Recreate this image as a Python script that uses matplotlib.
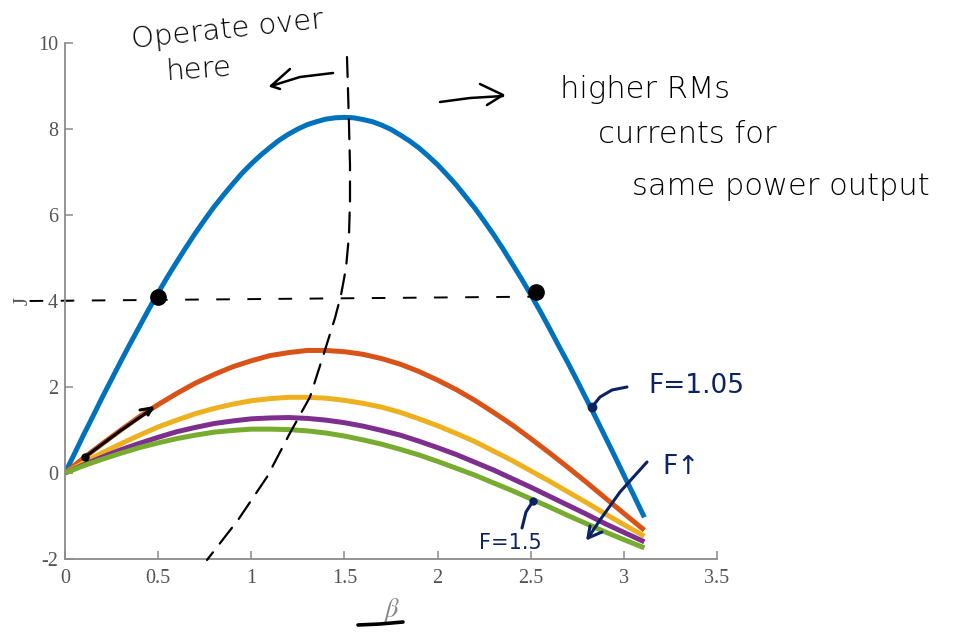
import matplotlib
matplotlib.use("Agg")
import matplotlib.pyplot as plt
from matplotlib.lines import Line2D

plt.rcParams["font.family"] = "Liberation Serif"
plt.rcParams["mathtext.fontset"] = "stix"

# beta samples (rad) and J for each F value
beta = [0.0, 0.1, 0.2, 0.3, 0.4, 0.5, 0.6, 0.7, 0.8, 0.9, 1.0, 1.1, 1.2, 1.3, 1.4, 1.5,
        1.6, 1.7, 1.8, 1.9, 2.0, 2.1, 2.2, 2.3, 2.4, 2.5, 2.6, 2.7, 2.8, 2.9, 3.0, 3.11]

# F = 1.05 bends sharply, so it is sampled twice as densely
beta_fine = [0.0, 0.05, 0.1, 0.15, 0.2, 0.25, 0.3, 0.35, 0.4, 0.45, 0.5, 0.55, 0.6, 0.65, 0.7, 0.75,
             0.8, 0.85, 0.9, 0.95, 1.0, 1.05, 1.1, 1.15, 1.2, 1.25, 1.3, 1.35, 1.4, 1.45, 1.5, 1.55,
             1.6, 1.65, 1.7, 1.75, 1.8, 1.85, 1.9, 1.95, 2.0, 2.05, 2.1, 2.15, 2.2, 2.25, 2.3, 2.35,
             2.4, 2.45, 2.5, 2.55, 2.6, 2.65, 2.7, 2.75, 2.8, 2.85, 2.9, 2.95, 3.0, 3.05, 3.11]
J_F105 = [0.0, 0.44, 0.89, 1.32, 1.76, 2.18, 2.60, 3.01, 3.41, 3.81, 4.19, 4.56, 4.91, 5.25, 5.58, 5.89,
          6.19, 6.46, 6.72, 6.97, 7.19, 7.39, 7.57, 7.74, 7.88, 8.00, 8.10, 8.17, 8.23, 8.26, 8.27, 8.26,
          8.22, 8.17, 8.09, 7.99, 7.86, 7.72, 7.56, 7.37, 7.17, 6.94, 6.70, 6.43, 6.16, 5.86, 5.55, 5.22,
          4.87, 4.52, 4.15, 3.77, 3.37, 2.96, 2.56, 2.14, 1.71, 1.28, 0.84, 0.40, -0.05, -0.49, -1.03]

J_F2 = [0.0, 0.35, 0.68, 1.00, 1.31, 1.59, 1.85, 2.09, 2.29, 2.47, 2.61, 2.73, 2.80, 2.85, 2.85, 2.82,
        2.76, 2.66, 2.53, 2.36, 2.16, 1.94, 1.69, 1.41, 1.12, 0.80, 0.47, 0.13, -0.22, -0.58, -0.94, -1.33]
J_F3 = [0.0, 0.24, 0.47, 0.68, 0.88, 1.07, 1.23, 1.38, 1.50, 1.60, 1.68, 1.73, 1.76, 1.76, 1.74, 1.69,
        1.62, 1.53, 1.41, 1.26, 1.10, 0.92, 0.73, 0.51, 0.29, 0.05, -0.19, -0.44, -0.69, -0.95, -1.20, -1.47]
J_F4 = [0.0, 0.19, 0.37, 0.54, 0.69, 0.83, 0.96, 1.06, 1.15, 1.21, 1.26, 1.28, 1.29, 1.27, 1.23, 1.17,
        1.09, 0.99, 0.88, 0.74, 0.59, 0.43, 0.25, 0.07, -0.13, -0.33, -0.54, -0.75, -0.96, -1.18, -1.38, -1.60]
J_F15 = [0.0, 0.17, 0.32, 0.46, 0.59, 0.70, 0.80, 0.88, 0.95, 0.99, 1.02, 1.02, 1.01, 0.98, 0.93, 0.86,
         0.77, 0.67, 0.55, 0.42, 0.27, 0.11, -0.05, -0.23, -0.41, -0.60, -0.79, -0.99, -1.18, -1.37, -1.55, -1.74]

curves = [(beta_fine, J_F105), (beta, J_F2), (beta, J_F3), (beta, J_F4), (beta, J_F15)]
colors = ["#0072BD", "#D95319", "#EDB120", "#7E2F8E", "#77AC30"]

# operating points picked on the F=1.05 curve
op_beta = [0.5, 2.53]
op_J = [4.1, 4.2]

xticks = [0, 0.5, 1, 1.5, 2, 2.5, 3, 3.5]
xticklabels = ["0", "0.5", "1", "1.5", "2", "2.5", "3", "3.5"]
yticks = [-2, 0, 2, 4, 6, 8, 10]
yticklabels = ["-2", "0", "2", "4", "6", "8", "10"]

W, H = 963, 632
fig = plt.figure(figsize=(W / 100, H / 100), dpi=100)
ax = fig.add_axes([65 / W, 1 - 559 / H, (717 - 65) / W, (559 - 43) / H])

for (x, J), c in zip(curves, colors):
    ax.plot(x, J, color=c, linewidth=3.6, solid_capstyle="butt", solid_joinstyle="round")

ax.set_xlim(0, 3.5)
ax.set_ylim(-2, 10)
ax.spines[["top", "right"]].set_visible(False)
for s in ["left", "bottom"]:
    ax.spines[s].set_color("#8a8a8a")
    ax.spines[s].set_linewidth(1.3)

ax.set_xticks(xticks, labels=xticklabels)
ax.set_yticks(yticks, labels=yticklabels)
ax.tick_params(direction="in", length=6, width=1.1, color="#8a8a8a",
               labelcolor="#555555", labelsize=14.5)
ax.tick_params(axis="x", pad=7)
ax.tick_params(axis="y", pad=5)

ax.set_xlabel(r"$\beta$", fontsize=19, color="#888888", labelpad=6)
ax.set_ylabel("J", fontsize=15, color="#555555", labelpad=4)


# pixel position -> figure fraction
def px(x, y):
    return x / W, 1 - y / H


def stroke(points, color="black", lw=1.8, dashes=None):
    xs = [px(x, y)[0] for x, y in points]
    ys = [px(x, y)[1] for x, y in points]
    line = Line2D(xs, ys, transform=fig.transFigure, color=color, linewidth=lw,
                  solid_capstyle="round", dash_capstyle="round", solid_joinstyle="round")
    if dashes is not None:
        line.set_dashes(dashes)
    fig.add_artist(line)


hand = "black"
navy = "#0b2263"
note = dict(transform=fig.transFigure, family="DejaVu Sans")

# horizontal dashed line through the two operating points
ax.plot([-0.19, 2.5], [4.0, 4.1], color=hand, linewidth=1.4, dashes=(7, 9), clip_on=False)
ax.plot(op_beta, op_J, "o", color=hand, markersize=11, clip_on=False)

# boundary between the two regions
stroke([(347, 57), (348, 90), (349, 125), (350, 165), (350, 200), (349, 235), (346, 268),
        (341, 295), (335, 318), (325, 350), (310, 397), (290, 433), (267, 477), (238, 520),
        (207, 560)], lw=1.6, dashes=(9, 5))

# arrows and notes
stroke([(333, 73), (300, 77), (271, 86)])
stroke([(290, 69), (271, 86), (280, 89)])
ax.text(*px(130, 48), "Operate over", fontsize=21, fontweight="light", rotation=6,
        color=hand, **note)
ax.text(*px(165, 80), "here", fontsize=21, fontweight="light", rotation=4, color=hand, **note)

stroke([(440, 102), (470, 98), (503, 96)])
stroke([(480, 84), (503, 95), (487, 105)])
ax.text(*px(560, 98), "higher RMs", fontsize=22, fontweight="light", color=hand, **note)
ax.text(*px(598, 143), "currents for", fontsize=22, fontweight="light", color=hand, **note)
ax.text(*px(632, 195), "same power output", fontsize=22, fontweight="light", color=hand, **note)

# small slope arrow near the origin
stroke([(85, 457), (120, 431), (152, 409)], lw=2.2)
stroke([(140, 410), (152, 408), (148, 415)], lw=2.2)
ax.plot(*px(85, 457), "o", transform=fig.transFigure, color=hand, markersize=5, clip_on=False)

# F labels
ax.plot(*px(592, 407), "o", transform=fig.transFigure, color=navy, markersize=6, clip_on=False)
stroke([(592, 407), (600, 397), (612, 390), (627, 387)], color=navy, lw=2.2)
ax.text(*px(648, 393), "F=1.05", fontsize=19, color=navy, **note)

stroke([(647, 462), (620, 492), (600, 520), (588, 538)], color=navy, lw=2.2)
stroke([(590, 526), (588, 538), (602, 532)], color=navy, lw=2.2)
ax.text(*px(662, 474), "F\u2191", fontsize=19, color=navy, **note)

ax.plot(*px(533, 501), "o", transform=fig.transFigure, color=navy, markersize=5, clip_on=False)
stroke([(533, 501), (526, 512), (522, 528)], color=navy, lw=2.2)
ax.text(*px(479, 549), "F=1.5", fontsize=15, color=navy, **note)

# underline below the axis label
stroke([(358, 625), (380, 624), (403, 622)], lw=2.6)

fig.savefig("out.png", dpi=100, facecolor="white")
